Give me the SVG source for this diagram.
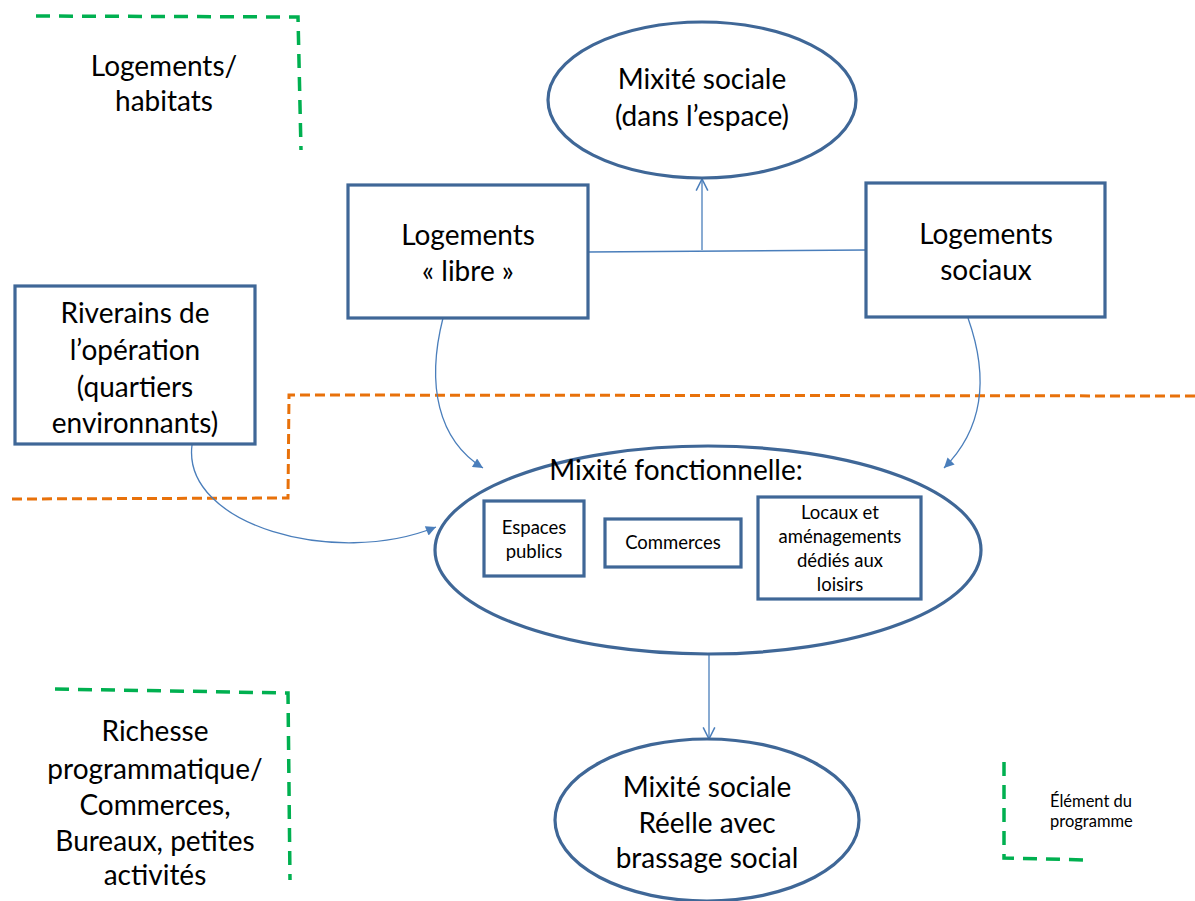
<svg xmlns="http://www.w3.org/2000/svg" width="1195" height="901" viewBox="0 0 1195 901">
<defs>
<style>
.t{font-family:Lato,"Open Sans","Liberation Sans",sans-serif;font-size:28px;fill:#000;text-anchor:middle}
.s{font-family:Lato,"Open Sans","Liberation Sans",sans-serif;font-size:18.5px;fill:#000;text-anchor:middle}
.l{font-family:Lato,"Open Sans","Liberation Sans",sans-serif;font-size:16.5px;fill:#000}
.node{fill:#fff;stroke:#3F6797;stroke-width:3.2}
.conn{fill:none;stroke:#4A7EBB;stroke-width:1.3}
.green{fill:none;stroke:#00B050;stroke-width:3.5;stroke-dasharray:14,9}
.orange{fill:none;stroke:#E8710A;stroke-width:3;stroke-dasharray:10,5}
</style>
<marker id="tri" viewBox="0 0 10 10" refX="10" refY="5" markerWidth="13" markerHeight="10" markerUnits="userSpaceOnUse" orient="auto"><path d="M0,0 L10,5 L0,10 z" fill="#4A7EBB"/></marker>
<marker id="open" viewBox="0 0 12 12" refX="11" refY="6" markerWidth="14" markerHeight="14" markerUnits="userSpaceOnUse" orient="auto"><path d="M1,1 L11,6 L1,11" fill="none" stroke="#4A7EBB" stroke-width="1.3"/></marker>
</defs>
<rect width="1195" height="901" fill="#fff"/>

<g id="zones">
<path class="green" d="M36,16 L298,17 L301,150"/>
<path class="orange" d="M12,499 L288,498 L289,395 L1195,396"/>
<path class="green" d="M55,689 L288,693 L290,880"/>
<path class="green" d="M1004,762 L1004,858 L1087,860"/>
</g>

<g id="connectors">
<path class="conn" d="M588,252 L866,250"/>
<path class="conn" d="M702,250 L702,179" marker-end="url(#open)"/>
<path class="conn" d="M443,318 C426,385 438,440 483,468" marker-end="url(#tri)"/>
<path class="conn" d="M968,318 C990,380 982,430 944,468" marker-end="url(#tri)"/>
<path class="conn" d="M192,445 C182,525 335,568 436,527" marker-end="url(#tri)"/>
<path class="conn" d="M709,654 L709,739" marker-end="url(#open)"/>
</g>

<g id="label-logements-habitats">
<text class="t" x="164" y="76">Logements/</text>
<text class="t" x="164" y="111">habitats</text>
</g>

<g id="node-mixite-espace">
<ellipse class="node" cx="702" cy="100" rx="154" ry="78"/>
<text class="t" x="702" y="89">Mixité sociale</text>
<text class="t" x="702" y="126">(dans l’espace)</text>
</g>

<g id="node-logements-libre">
<rect class="node" x="348" y="185" width="240" height="133"/>
<text class="t" x="468" y="245">Logements</text>
<text class="t" x="468" y="281">« libre »</text>
</g>

<g id="node-logements-sociaux">
<rect class="node" x="866" y="183" width="239" height="134"/>
<text class="t" x="986" y="244">Logements</text>
<text class="t" x="986" y="280">sociaux</text>
</g>

<g id="node-riverains">
<rect class="node" x="15" y="286" width="240" height="158"/>
<text class="t" x="135" y="323">Riverains de</text>
<text class="t" x="135" y="360">l’opération</text>
<text class="t" x="135" y="397">(quartiers</text>
<text class="t" x="135" y="433">environnants)</text>
</g>

<g id="node-mixite-fonctionnelle">
<ellipse class="node" cx="708" cy="550" rx="273" ry="104"/>
<text class="t" x="676" y="480">Mixité fonctionnelle:</text>
</g>

<g id="node-espaces-publics">
<rect class="node" x="484" y="501" width="100" height="75"/>
<text class="s" x="534" y="534">Espaces</text>
<text class="s" x="534" y="558">publics</text>
</g>

<g id="node-commerces">
<rect class="node" x="605" y="519" width="136" height="48"/>
<text class="s" x="673" y="549">Commerces</text>
</g>

<g id="node-locaux">
<rect class="node" x="758" y="497" width="163" height="102"/>
<text class="s" x="840" y="519">Locaux et</text>
<text class="s" x="840" y="543">aménagements</text>
<text class="s" x="840" y="567">dédiés aux</text>
<text class="s" x="840" y="591">loisirs</text>
</g>

<g id="node-mixite-reelle">
<ellipse class="node" cx="707" cy="820" rx="152" ry="81"/>
<text class="t" x="707" y="797">Mixité sociale</text>
<text class="t" x="707" y="833">Réelle avec</text>
<text class="t" x="707" y="868">brassage social</text>
</g>

<g id="label-richesse">
<text class="t" x="155" y="741">Richesse</text>
<text class="t" x="155" y="779">programmatique/</text>
<text class="t" x="155" y="815">Commerces,</text>
<text class="t" x="155" y="851">Bureaux, petites</text>
<text class="t" x="155" y="885">activités</text>
</g>

<g id="legend">
<text class="l" x="1050" y="807">Élément du</text>
<text class="l" x="1050" y="827">programme</text>
</g>
</svg>
